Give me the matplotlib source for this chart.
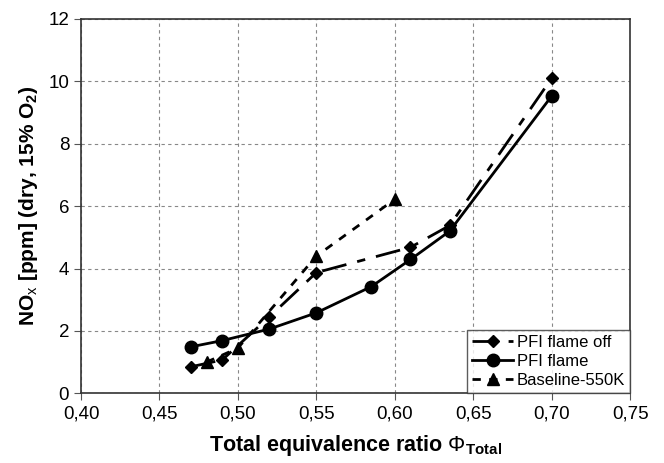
import matplotlib
matplotlib.use("Agg")
import matplotlib.pyplot as plt
from matplotlib.ticker import FuncFormatter

plt.rcParams['font.family'] = ['Liberation Sans', 'DejaVu Sans']
plt.rcParams['mathtext.fontset'] = 'custom'
plt.rcParams['mathtext.rm'] = 'Liberation Sans'
plt.rcParams['mathtext.it'] = 'Liberation Sans'
plt.rcParams['mathtext.bf'] = 'Liberation Sans:bold'

# PFI flame off
phi_off = [0.47, 0.49, 0.52, 0.55, 0.61, 0.635, 0.70]
nox_off = [0.85, 1.07, 2.45, 3.87, 4.68, 5.38, 10.1]

# PFI flame
phi_on = [0.47, 0.49, 0.52, 0.55, 0.585, 0.61, 0.635, 0.70]
nox_on = [1.49, 1.69, 2.06, 2.58, 3.42, 4.29, 5.2, 9.53]

# Baseline-550K
phi_base = [0.48, 0.50, 0.55, 0.60]
nox_base = [1.0, 1.45, 4.4, 6.22]

fig = plt.figure(figsize=(6.64, 4.63), dpi=100)
ax = fig.add_axes([0.122, 0.1505, 0.827, 0.8085])

ax.plot(phi_off, nox_off, color='black', lw=2, linestyle=(0, (9, 4, 3, 4)),
        marker='D', markersize=6, label='PFI flame off')
ax.plot(phi_on, nox_on, color='black', lw=2, linestyle='-',
        marker='o', markersize=9, label='PFI flame')
ax.plot(phi_base, nox_base, color='black', lw=2, linestyle=(0, (3, 3)),
        marker='^', markersize=9, label='Baseline-550K')

ax.set_xlim(0.40, 0.75)
ax.set_ylim(0, 12)
ax.set_xticks([0.40, 0.45, 0.50, 0.55, 0.60, 0.65, 0.70, 0.75])
ax.set_yticks(range(0, 13, 2))
ax.xaxis.set_major_formatter(FuncFormatter(lambda v, p: f"{v:.2f}".replace('.', ',')))
ax.grid(True, color='#888888', linestyle=(0, (3, 3)), linewidth=0.8)
ax.tick_params(labelsize=13.5, direction='out', length=5, color='#555555')

for s in ax.spines.values():
    s.set_color('#333333')
    s.set_linewidth(1.2)

ax.set_xlabel(r'Total equivalence ratio $\mathrm{\Phi}_{\mathbf{Total}}$', fontsize=15.5,
              fontweight='bold', labelpad=8)
ax.set_ylabel(r'NO$_\mathrm{x}$ [ppm] (dry, 15% O$_\mathbf{2}$)', fontsize=15,
              fontweight='bold', labelpad=6)

leg = ax.legend(loc='lower right', fontsize=12, frameon=True, fancybox=False,
                edgecolor='#333333', borderaxespad=0, handlelength=2.5,
                handletextpad=0.2, labelspacing=0.25, borderpad=0.3)
leg.get_frame().set_linewidth(1.0)

fig.savefig('out.png', dpi=100)
